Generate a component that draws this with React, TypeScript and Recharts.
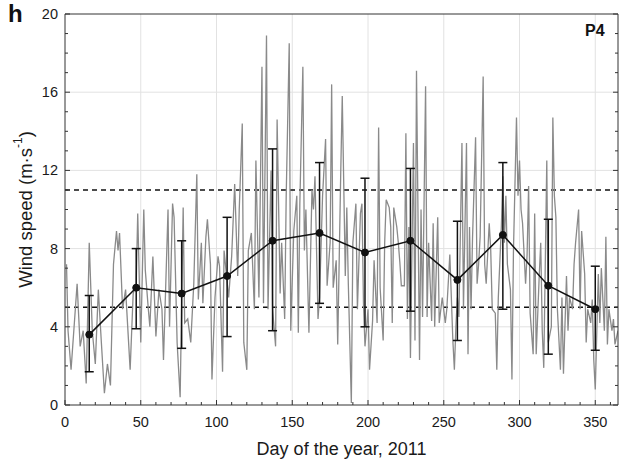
import React from 'react';
import {
  ComposedChart,
  Line,
  XAxis,
  YAxis,
  ReferenceLine,
  ErrorBar,
} from 'recharts';

// daily wind speed (day of year, m/s)
const days = [
  1, 2, 4, 8, 10, 12, 14, 16, 18, 20, 22, 24, 26, 28, 30, 32, 34, 35, 36, 38, 40, 43, 45, 47, 48, 50,
  52, 53, 55, 56, 58, 60, 62, 64, 65, 68, 69, 71, 72, 74, 76, 78, 79, 81, 83, 85, 87, 88, 90, 91, 93,
  94, 96, 97, 99, 101, 102, 104, 105, 108, 110, 112, 114, 115, 117, 118, 120, 121, 123, 125, 126, 128,
  130, 131, 133, 134, 136, 137, 139, 140, 142, 143, 145, 146, 148, 149, 151, 153, 154, 155, 157, 158,
  159, 161, 163, 164, 165, 167, 168, 170, 172, 173, 175, 176, 177, 179, 180, 182, 183, 185, 186, 187,
  189, 190, 192, 193, 195, 196, 197, 198, 200, 201, 203, 204, 206, 207, 208, 210, 211, 212, 214, 215,
  216, 217, 219, 220, 221, 222, 224, 225, 226, 227, 228, 230, 231, 232, 234, 235, 236, 238, 239, 240,
  242, 243, 244, 246, 247, 249, 251, 252, 254, 256, 257, 258, 259, 260, 262, 263, 265, 266, 267, 268,
  269, 271, 272, 273, 274, 276, 277, 278, 280, 281, 282, 284, 285, 286, 288, 289, 290, 291, 292, 294,
  295, 296, 298, 299, 300, 301, 302, 304, 305, 306, 307, 309, 310, 311, 313, 314, 315, 316, 318, 319,
  321, 322, 323, 324, 325, 327, 328, 329, 331, 332, 333, 335, 336, 337, 339, 340, 341, 343, 344, 345,
  347, 348, 349, 350, 352, 353, 354, 356, 357, 358, 359, 361, 362, 363, 365,
];
const speeds = [
  7.2, 3.8, 1.8, 6.2, 3.0, 3.8, 1.1, 8.3, 3.8, 2.1, 5.9, 3.2, 0.6, 2.1, 1.0, 7.2, 8.9, 7.9, 8.8, 4.9, 5.9, 1.8, 5.7, 6.2, 9.8, 3.2,
  10.0, 6.9, 4.9, 4.0, 7.6, 3.5, 5.9, 4.9, 2.3, 10.0, 4.0, 10.3, 9.6, 3.2, 0.4, 10.1, 4.2, 4.4, 3.2, 6.2, 11.8, 5.4, 8.3, 5.2, 8.6,
  9.5, 7.2, 1.3, 5.5, 7.6, 7.1, 1.7, 7.9, 5.5, 7.6, 11.3, 6.6, 10.0, 14.4, 3.2, 1.8, 7.9, 8.8, 4.9, 12.5, 5.5,
  17.3, 5.2, 18.9, 4.9, 12.0, 4.9, 3.0, 14.6, 5.7, 8.3, 4.4, 10.7, 18.5, 3.8, 8.9, 10.7, 3.7, 10.3, 17.3, 7.9,
  10.0, 3.7, 11.0, 10.0, 11.7, 4.4, 5.5, 10.7, 13.6, 6.1, 8.3, 16.4, 6.0, 7.4, 3.1, 11.9, 15.8, 6.6, 10.1, 6.2,
  0.1, 8.3, 10.3, 4.9, 9.8, 10.3, 5.2, 3.0, 4.9, 1.8, 4.3, 7.4, 4.2, 14.2, 6.0, 3.3, 8.3, 10.5, 10.1, 9.1,
  4.2, 10.1, 9.1, 8.3, 7.3, 6.1, 6.1, 13.9, 4.4, 9.1, 2.4, 13.4, 3.3, 17.1, 2.3, 10.0, 4.5, 16.3, 4.5, 8.3,
  4.3, 9.3, 4.0, 9.6, 4.2, 5.5, 4.2, 4.9, 7.7, 3.3, 1.8, 4.0, 5.5, 4.5, 13.4, 4.9, 13.4, 2.6, 9.1, 4.9,
  8.6, 13.7, 6.2, 7.2, 8.6, 16.8, 7.2, 6.2, 9.3, 7.9, 4.9, 4.7, 1.8, 5.5, 9.1, 11.7, 8.3, 10.7, 7.2, 5.9,
  1.3, 7.9, 14.7, 10.7, 12.5, 10.0, 9.3, 6.2, 7.7, 11.2, 4.7, 2.6, 9.8, 2.6, 6.6, 8.3, 3.8, 1.9, 12.5, 3.2,
  4.0, 14.7, 10.7, 9.6, 4.9, 1.8, 5.5, 1.6, 6.6, 3.8, 5.5, 4.9, 7.2, 8.3, 10.0, 4.9, 8.9, 6.7, 3.2, 4.9,
  4.2, 5.4, 2.3, 0.8, 6.7, 4.2, 7.0, 3.8, 8.6, 3.1, 4.9, 3.8, 4.4, 3.1, 3.8,
];

// monthly means with the ends of the error bars
const monthDays = [16, 47, 77, 107, 137, 168, 198, 228, 259, 289, 319, 350];
const monthMean = [3.6, 6.0, 5.7, 6.6, 8.4, 8.8, 7.8, 8.4, 6.4, 8.7, 6.1, 4.9];
const monthLow = [1.7, 3.9, 2.9, 3.5, 3.8, 5.2, 4.0, 4.8, 3.3, 4.9, 2.6, 2.8];
const monthHigh = [5.6, 8.0, 8.4, 9.6, 13.1, 12.4, 11.6, 12.1, 9.4, 12.4, 9.5, 7.1];

// thresholds drawn as dashed lines
const thresholds = [5, 11];

const xTicks = Array.from({ length: 37 }, (_, i) => i * 10);
const yTicks = Array.from({ length: 21 }, (_, i) => i);
const xMajor = [50, 100, 150, 200, 250, 300, 350];
const yMajor = [4, 8, 12, 16];

const dailyData = days.map((d, i) => ({ day: d, speed: speeds[i] }));
const monthData = monthDays.map((d, i) => ({
  day: d,
  mean: monthMean[i],
  err: [monthMean[i] - monthLow[i], monthHigh[i] - monthMean[i]],
}));

const AXIS = '#333';
const GRID = '#e2e2e2';
const FONT = '"Liberation Sans", Arial, sans-serif';

const BottomTick = (props: any) => {
  const { x, y, payload } = props;
  const major = payload.value % 50 === 0;
  return (
    <g>
      <line x1={x} x2={x} y1={y} y2={y - (major ? 5 : 3)} stroke={AXIS} />
      {major && (
        <text x={x} y={y + 22} textAnchor="middle" fontSize={14.5} fill="#1a1a1a" fontFamily={FONT}>
          {payload.value}
        </text>
      )}
    </g>
  );
};

const TopTick = (props: any) => {
  const { x, y, payload } = props;
  const major = payload.value % 50 === 0;
  return <line x1={x} x2={x} y1={y} y2={y + (major ? 5 : 3)} stroke={AXIS} />;
};

const LeftTick = (props: any) => {
  const { x, y, payload } = props;
  const major = payload.value % 4 === 0;
  return (
    <g>
      <line x1={x} x2={x + (major ? 5 : 3)} y1={y} y2={y} stroke={AXIS} />
      {major && (
        <text x={x - 7} y={y + 5} textAnchor="end" fontSize={14.5} fill="#1a1a1a" fontFamily={FONT}>
          {payload.value}
        </text>
      )}
    </g>
  );
};

const RightTick = (props: any) => {
  const { x, y, payload } = props;
  const major = payload.value % 4 === 0;
  return <line x1={x} x2={x - (major ? 5 : 3)} y1={y} y2={y} stroke={AXIS} />;
};

const YTitle = (props: any) => {
  const { viewBox } = props;
  const cx = 25;
  const cy = viewBox && viewBox.height ? viewBox.y + viewBox.height / 2 : 210;
  return (
    <text
      x={cx}
      y={cy}
      transform={`rotate(-90, ${cx}, ${cy})`}
      textAnchor="middle"
      dominantBaseline="central"
      fontSize={18.5}
      fill="#1a1a1a"
      fontFamily={FONT}
    >
      Wind speed (m·s<tspan dy={-7} fontSize={12}>-1</tspan>
      <tspan dy={7}>)</tspan>
    </text>
  );
};

export default function App() {
  return (
    <div
      style={{
        position: 'absolute',
        left: 0,
        top: 0,
        width: 619,
        height: 460,
        background: '#fff',
        fontFamily: FONT,
      }}
    >
      <ComposedChart width={619} height={460} margin={{ top: 13, right: 0, bottom: 0, left: 0 }}>
        <XAxis
          dataKey="day"
          type="number"
          domain={[0, 365]}
          allowDataOverflow
          ticks={xTicks}
          interval={0}
          tick={BottomTick}
          tickLine={false}
          tickSize={0}
          tickMargin={0}
          stroke={AXIS}
          height={55}
          label={{
            value: 'Day of the year, 2011',
            position: 'insideBottom',
            offset: 5,
            fontSize: 18,
            fill: '#1a1a1a',
            fontFamily: FONT,
          }}
        />
        <XAxis
          xAxisId="top"
          orientation="top"
          type="number"
          domain={[0, 365]}
          allowDataOverflow
          ticks={xTicks}
          interval={0}
          tick={TopTick}
          tickLine={false}
          tickSize={0}
          tickMargin={0}
          stroke={AXIS}
          height={1}
        />
        <YAxis
          type="number"
          domain={[0, 20]}
          allowDataOverflow
          ticks={yTicks}
          interval={0}
          tick={LeftTick}
          tickLine={false}
          tickSize={0}
          tickMargin={0}
          stroke={AXIS}
          width={65}
          label={{ content: YTitle }}
        />
        <YAxis
          yAxisId="right"
          orientation="right"
          type="number"
          domain={[0, 20]}
          allowDataOverflow
          ticks={yTicks}
          interval={0}
          tick={RightTick}
          tickLine={false}
          tickSize={0}
          tickMargin={0}
          stroke={AXIS}
          width={1}
        />
        {xMajor.map(v => (
          <ReferenceLine key={`gx${v}`} x={v} stroke={GRID} />
        ))}
        {yMajor.map(v => (
          <ReferenceLine key={`gy${v}`} y={v} stroke={GRID} />
        ))}
        {thresholds.map(t => (
          <ReferenceLine key={t} y={t} stroke="#111" strokeWidth={1.5} strokeDasharray="5 4" />
        ))}
        <Line
          data={dailyData}
          dataKey="speed"
          type="linear"
          stroke="#8a8a8a"
          strokeWidth={1.3}
          dot={false}
          isAnimationActive={false}
        />
        <Line
          data={monthData}
          dataKey="mean"
          type="linear"
          stroke="#111"
          strokeWidth={1.5}
          dot={{ r: 3.5, fill: '#111', stroke: '#111', strokeWidth: 1 }}
          isAnimationActive={false}
        >
          <ErrorBar dataKey="err" direction="y" width={4.5} stroke="#111" strokeWidth={1.5} />
        </Line>
      </ComposedChart>
      <div
        style={{
          position: 'absolute',
          left: 8,
          top: 0,
          fontSize: 24,
          fontWeight: 'bold',
          lineHeight: '28px',
          color: '#111',
        }}
      >
        h
      </div>
      <div
        style={{
          position: 'absolute',
          left: 585,
          top: 21,
          fontSize: 16,
          fontWeight: 'bold',
          lineHeight: '19px',
          color: '#111',
        }}
      >
        P4
      </div>
    </div>
  );
}
